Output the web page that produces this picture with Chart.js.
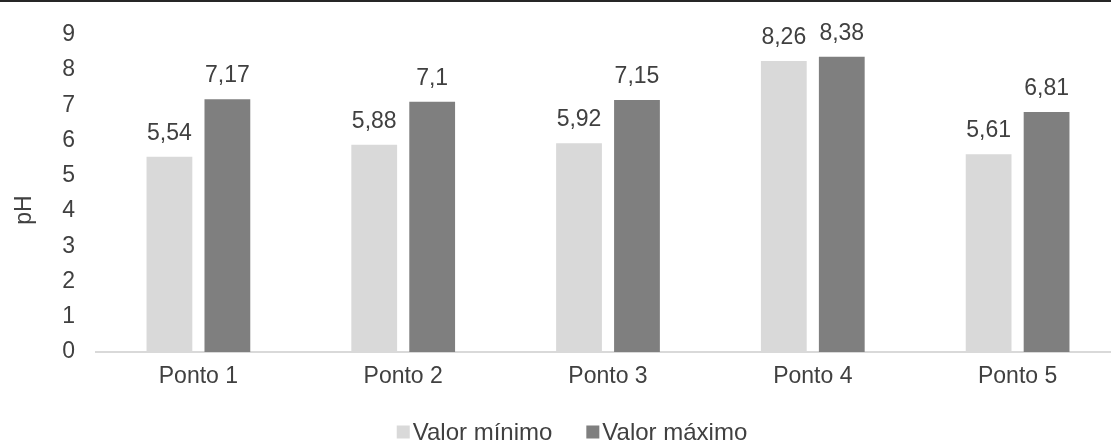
<!DOCTYPE html>
<html>
<head>
<meta charset="utf-8">
<script src="https://cdn.jsdelivr.net/npm/chart.js@4.4.1/dist/chart.umd.min.js"></script>
<style>
  html, body { margin: 0; padding: 0; background: #fff; overflow: hidden; }
  #wrap { width: 1111px; height: 444px; overflow: hidden; position: relative; }
  canvas { display: block; }
</style>
</head>
<body>
<div id="wrap"><canvas id="phChart" width="1122" height="444"></canvas></div>
<script>
const categories = ["Ponto 1", "Ponto 2", "Ponto 3", "Ponto 4", "Ponto 5"];
const minValues = [5.54, 5.88, 5.92, 8.26, 5.61];
const maxValues = [7.17, 7.1, 7.15, 8.38, 6.81];
const seriesNames = ["Valor mínimo", "Valor máximo"];
const seriesColors = ["#d9d9d9", "#7f7f7f"];
const yTicks = [0, 1, 2, 3, 4, 5, 6, 7, 8, 9];
const yTitle = "pH";

const FONT = "'Liberation Sans', Arial, sans-serif";
const TEXT_COLOR = "#404040";

function formatValue(v) {
  return String(v).replace(".", ",");
}

// value labels, top rule, axis title and legend
const extrasPlugin = {
  id: "extras",
  afterDatasetsDraw(chart) {
    const ctx = chart.ctx;
    ctx.save();
    ctx.font = "23px " + FONT;
    ctx.fillStyle = TEXT_COLOR;
    ctx.textAlign = "center";
    ctx.textBaseline = "alphabetic";
    chart.data.datasets.forEach(function (ds, i) {
      chart.getDatasetMeta(i).data.forEach(function (bar, j) {
        ctx.fillText(formatValue(ds.data[j]), bar.x, bar.y - 17);
      });
    });
    ctx.restore();
  },
  afterDraw(chart) {
    const ctx = chart.ctx;
    ctx.save();

    // dark rule along the top edge
    ctx.fillStyle = "#262626";
    ctx.fillRect(0, 0, chart.width, 2);

    // y axis title
    ctx.font = "23px " + FONT;
    ctx.fillStyle = TEXT_COLOR;
    ctx.translate(25, 210);
    ctx.rotate(-Math.PI / 2);
    ctx.textAlign = "center";
    ctx.textBaseline = "middle";
    ctx.fillText(yTitle, 0, 0);
    ctx.setTransform(1, 0, 0, 1, 0, 0);

    // legend
    ctx.font = "24px " + FONT;
    ctx.textAlign = "left";
    ctx.textBaseline = "middle";
    const box = 13, boxGap = 3, itemGap = 34, legendY = 432, legendCenter = 572;
    const widths = seriesNames.map(function (n) { return box + boxGap + ctx.measureText(n).width; });
    const total = widths.reduce(function (a, b) { return a + b; }, 0) + itemGap * (widths.length - 1);
    let x = legendCenter - total / 2;
    seriesNames.forEach(function (name, i) {
      ctx.fillStyle = seriesColors[i];
      ctx.fillRect(x, legendY - box / 2, box, box);
      ctx.fillStyle = TEXT_COLOR;
      ctx.fillText(name, x + box + boxGap, legendY + 1);
      x += widths[i] + itemGap;
    });

    ctx.restore();
  }
};

const ctx = document.getElementById("phChart").getContext("2d");

new Chart(ctx, {
  type: "bar",
  data: {
    labels: categories,
    datasets: [
      {
        label: seriesNames[0],
        data: minValues,
        backgroundColor: seriesColors[0],
        categoryPercentage: 0.566,
        barPercentage: 0.79,
      },
      {
        label: seriesNames[1],
        data: maxValues,
        backgroundColor: seriesColors[1],
        categoryPercentage: 0.566,
        barPercentage: 0.79,
      },
    ],
  },
  options: {
    responsive: false,
    animation: false,
    devicePixelRatio: 1,
    layout: {
      padding: { top: 28, right: 2, left: 0, bottom: 0 },
    },
    plugins: {
      legend: { display: false },
      tooltip: { enabled: false },
    },
    scales: {
      x: {
        grid: { display: false, drawTicks: false },
        border: { display: true, color: "#d9d9d9", width: 2 },
        ticks: {
          color: TEXT_COLOR,
          font: { family: FONT, size: 23 },
          padding: 11,
          maxRotation: 0,
        },
        afterFit: function (scale) {
          scale.height = 92;
        },
      },
      y: {
        min: yTicks[0],
        max: yTicks[yTicks.length - 1],
        grid: { display: false, drawTicks: false },
        border: { display: false },
        ticks: {
          stepSize: 1,
          color: TEXT_COLOR,
          font: { family: FONT, size: 23 },
          padding: 21,
        },
        afterFit: function (scale) {
          scale.width = 96;
        },
      },
    },
  },
  plugins: [extrasPlugin],
});
</script>
</body>
</html>
